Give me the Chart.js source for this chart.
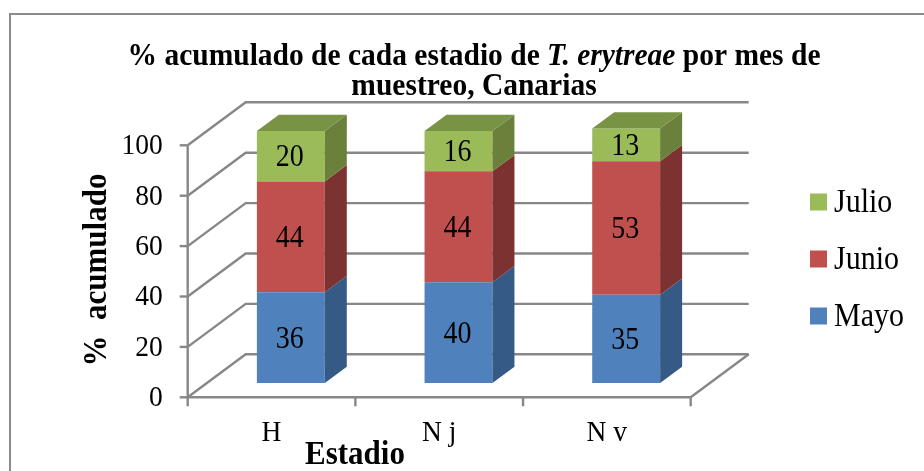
<!DOCTYPE html>
<html>
<head>
    <meta charset="UTF-8">
    <title>% acumulado por estadio</title>
    <script src="https://cdn.jsdelivr.net/npm/chart.js"></script>
    <style>
        body { margin: 0; background: #ffffff; }
        .chart-container { position: relative; width: 924px; height: 471px; }
    </style>
</head>
<body>
    <div class="chart-container">
        <canvas id="estadioChart"></canvas>
    </div>

    <script>
        // Data
        var estadios = ['H', 'N j', 'N v'];
        var mayo = [36, 40, 35];
        var junio = [44, 44, 53];
        var julio = [20, 16, 13];
        var yTicks = [0, 20, 40, 60, 80, 100];

        var SERIF = '"Liberation Serif", "Times New Roman", serif';
        var GRID = '#878787';
        var STRETCH = 1.1; // the original text is a little taller than wide

        // 3D offsets relative to the plane of the bars' front faces
        var FRONT = { x: -19.3, y: 14.3 };   // front axis plane
        var BACK = { x: 38.7, y: -28.7 };    // back wall
        var DEPTH = { x: 22, y: -16.3 };     // bar depth

        var sideColors = ['#355a86', '#7b3230', '#6a803b'];
        var topColor = '#789343';

        function line(ctx, x1, y1, x2, y2) {
            ctx.beginPath();
            ctx.moveTo(x1, y1);
            ctx.lineTo(x2, y2);
            ctx.stroke();
        }

        function text(ctx, t, x, y, rot) {
            ctx.save();
            ctx.translate(x, y);
            if (rot) ctx.rotate(rot);
            ctx.scale(1, STRETCH);
            ctx.fillText(t, 0, 0);
            ctx.restore();
        }

        var box3d = {
            id: 'box3d',
            beforeDraw: function (chart) {
                var ctx = chart.ctx;
                ctx.save();
                ctx.strokeStyle = '#8c8c8c';
                ctx.lineWidth = 2;
                ctx.strokeRect(10, 14, 930, 480);
                ctx.restore();
            },
            beforeDatasetsDraw: function (chart) {
                var ctx = chart.ctx;
                var x = chart.scales.x, y = chart.scales.y;
                var left = chart.chartArea.left, right = chart.chartArea.right;
                var y0 = y.getPixelForValue(0), y100 = y.getPixelForValue(100);
                ctx.save();
                ctx.strokeStyle = GRID;
                ctx.lineWidth = 2.4;
                // back wall gridlines + left wall diagonals
                yTicks.forEach(function (v) {
                    var py = y.getPixelForValue(v);
                    ctx.beginPath();
                    ctx.moveTo(left + FRONT.x, py + FRONT.y);
                    ctx.lineTo(left + BACK.x, py + BACK.y);
                    ctx.lineTo(right + BACK.x, py + BACK.y);
                    ctx.stroke();
                });
                // front axis
                line(ctx, left + FRONT.x, y0 + FRONT.y + 1, left + FRONT.x, y100 + FRONT.y);
                // floor
                ctx.beginPath();
                ctx.moveTo(left + FRONT.x, y0 + FRONT.y);
                ctx.lineTo(right + FRONT.x, y0 + FRONT.y);
                ctx.lineTo(right + BACK.x, y0 + BACK.y);
                ctx.stroke();
                // y ticks and labels
                ctx.fillStyle = '#000';
                ctx.font = '27.5px ' + SERIF;
                ctx.textAlign = 'right';
                ctx.textBaseline = 'middle';
                yTicks.forEach(function (v) {
                    var py = y.getPixelForValue(v) + FRONT.y;
                    line(ctx, left + FRONT.x - 8, py, left + FRONT.x, py);
                    text(ctx, String(v), left + FRONT.x - 25, py + 1);
                });
                // x ticks and labels
                var catW = (right - left) / estadios.length;
                for (var i = 0; i <= estadios.length; i++) {
                    var px = left + i * catW + FRONT.x;
                    line(ctx, px, y0 + FRONT.y, px, y0 + FRONT.y + 9);
                }
                ctx.textAlign = 'center';
                estadios.forEach(function (c, i) {
                    text(ctx, c, x.getPixelForValue(i) + FRONT.x, 433);
                });
                ctx.restore();
            },
            afterDatasetsDraw: function (chart) {
                var ctx = chart.ctx;
                ctx.save();
                var n = chart.data.datasets.length;
                chart.data.datasets.forEach(function (ds, di) {
                    var meta = chart.getDatasetMeta(di);
                    meta.data.forEach(function (bar) {
                        var p = bar.getProps(['x', 'y', 'base', 'width'], true);
                        var r = p.x + p.width / 2, l = p.x - p.width / 2;
                        var top = Math.min(p.y, p.base), bot = Math.max(p.y, p.base);
                        ctx.fillStyle = sideColors[di];
                        ctx.beginPath();
                        ctx.moveTo(r, top);
                        ctx.lineTo(r + DEPTH.x, top + DEPTH.y);
                        ctx.lineTo(r + DEPTH.x, bot + DEPTH.y);
                        ctx.lineTo(r, bot);
                        ctx.closePath();
                        ctx.fill();
                        if (di === n - 1) {
                            ctx.fillStyle = topColor;
                            ctx.beginPath();
                            ctx.moveTo(l, top);
                            ctx.lineTo(l + DEPTH.x, top + DEPTH.y);
                            ctx.lineTo(r + DEPTH.x, top + DEPTH.y);
                            ctx.lineTo(r, top);
                            ctx.closePath();
                            ctx.fill();
                        }
                    });
                });
                // value labels
                ctx.fillStyle = '#000';
                ctx.font = '28px ' + SERIF;
                ctx.textAlign = 'center';
                ctx.textBaseline = 'middle';
                chart.data.datasets.forEach(function (ds, di) {
                    chart.getDatasetMeta(di).data.forEach(function (bar, i) {
                        var p = bar.getProps(['x', 'y', 'base'], true);
                        text(ctx, String(ds.data[i]), p.x - 1, (p.y + p.base) / 2 + 2);
                    });
                });
                ctx.restore();
            },
            afterDraw: function (chart) {
                var ctx = chart.ctx;
                ctx.save();
                ctx.fillStyle = '#000';
                ctx.textBaseline = 'middle';
                // title, with the species name in italics
                var parts = [
                    ['bold 29.5px ' + SERIF, '% acumulado de cada estadio de '],
                    ['italic bold 29.5px ' + SERIF, 'T. erytreae'],
                    ['bold 29.5px ' + SERIF, ' por mes de']
                ];
                var total = 0;
                parts.forEach(function (p) { ctx.font = p[0]; total += ctx.measureText(p[1]).width; });
                var tx = 474 - total / 2;
                ctx.textAlign = 'left';
                parts.forEach(function (p) {
                    ctx.font = p[0];
                    text(ctx, p[1], tx, 57);
                    tx += ctx.measureText(p[1]).width;
                });
                ctx.textAlign = 'center';
                ctx.font = 'bold 29.5px ' + SERIF;
                text(ctx, 'muestreo, Canarias', 474, 87);
                // axis titles
                ctx.font = 'bold 31px ' + SERIF;
                text(ctx, 'Estadio', 355, 455);
                text(ctx, '%  acumulado', 97, 270, -Math.PI / 2);
                // legend, top to bottom: Julio, Junio, Mayo
                ctx.font = '30px ' + SERIF;
                ctx.textAlign = 'left';
                var ds = chart.data.datasets;
                for (var i = ds.length - 1, k = 0; i >= 0; i--, k++) {
                    var ly = 202 + k * 57;
                    ctx.fillStyle = ds[i].backgroundColor;
                    ctx.fillRect(810, ly - 8.5, 17, 17);
                    ctx.fillStyle = '#000';
                    text(ctx, ds[i].label, 834, ly + 1);
                }
                ctx.restore();
            }
        };

        var ctx = document.getElementById('estadioChart').getContext('2d');
        var estadioChart = new Chart(ctx, {
            type: 'bar',
            data: {
                labels: estadios,
                datasets: [
                    { label: 'Mayo', data: mayo, backgroundColor: '#4f81bd' },
                    { label: 'Junio', data: junio, backgroundColor: '#c0504d' },
                    { label: 'Julio', data: julio, backgroundColor: '#9bbb59' }
                ]
            },
            options: {
                responsive: true,
                maintainAspectRatio: false,
                animation: false,
                layout: { padding: { left: 207, right: 214, top: 131, bottom: 88 } },
                datasets: { bar: { categoryPercentage: 1, barPercentage: 0.405, borderWidth: 0, clip: false } },
                scales: {
                    x: { stacked: true, display: false },
                    y: { stacked: true, display: false, min: 0, max: 100 }
                },
                plugins: {
                    legend: { display: false },
                    title: { display: false },
                    tooltip: { enabled: false }
                }
            },
            plugins: [box3d]
        });
    </script>
</body>
</html>
